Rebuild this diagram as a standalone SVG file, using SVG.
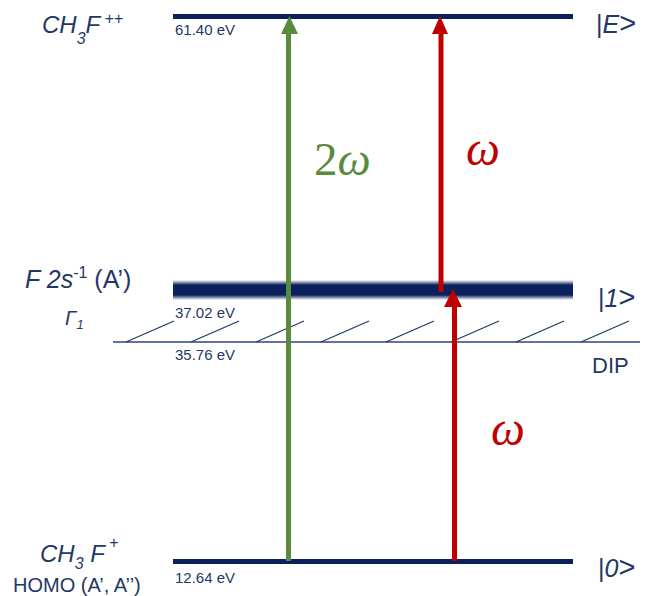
<svg xmlns="http://www.w3.org/2000/svg" width="648" height="596" viewBox="0 0 648 596">
<style>
.lbl{font-family:"Liberation Sans",Arial,sans-serif;fill:#1f3864}
.it{font-style:italic}
.ev{font-family:"Liberation Sans",Arial,sans-serif;font-size:15px;fill:#1f3864}
.ket{font-family:"Liberation Sans",Arial,sans-serif;font-size:25px;fill:#1f3864}
.br{font-size:29px}
.lvl{stroke:#0a215e;stroke-width:5;fill:none}
.hatch{stroke:#1f3864;stroke-width:1.2}
.om{font-family:"Liberation Serif","Times New Roman",serif;font-style:italic}
</style>
<defs>
<linearGradient id="band" x1="0" y1="0" x2="0" y2="1">
<stop offset="0" stop-color="#0a215e" stop-opacity="0"/>
<stop offset="0.25" stop-color="#0a215e" stop-opacity="1"/>
<stop offset="0.75" stop-color="#0a215e" stop-opacity="1"/>
<stop offset="1" stop-color="#0a215e" stop-opacity="0"/>
</linearGradient>
</defs>

<g id="level-E">
<line class="lvl" x1="173" y1="16.5" x2="573" y2="16.5"/>
<text class="ev" x="175" y="35">61.40 eV</text>
<text class="lbl it" x="42" y="33" font-size="24">CH<tspan font-size="16" dy="11">3</tspan><tspan dy="-11">F</tspan><tspan font-size="16" dy="-9" font-style="normal"> ++</tspan></text>
<text class="ket" x="596" y="33">|<tspan class="it">E</tspan><tspan class="br">&gt;</tspan></text>
</g>

<g id="level-1">
<rect x="173" y="280" width="400" height="20" fill="url(#band)"/>
<text class="ev" x="175" y="318">37.02 eV</text>
<text class="lbl" x="25" y="288" font-size="25"><tspan class="it">F 2s</tspan><tspan font-size="16" dy="-10">-1</tspan><tspan dy="10"> (A’)</tspan></text>
<text class="lbl it" x="65" y="325" font-size="20">Γ<tspan font-size="13" dy="4">1</tspan></text>
<text class="ket" x="598" y="307">|<tspan class="it">1</tspan><tspan class="br">&gt;</tspan></text>
</g>

<g id="DIP">
<line x1="113" y1="342" x2="640" y2="342" stroke="#2c4677" stroke-width="1.5"/>
<g class="hatch">
<line x1="126" y1="342" x2="174" y2="321"/>
<line x1="191" y1="342" x2="239" y2="321"/>
<line x1="256" y1="342" x2="304" y2="321"/>
<line x1="321" y1="342" x2="369" y2="321"/>
<line x1="386" y1="342" x2="434" y2="321"/>
<line x1="451" y1="342" x2="499" y2="321"/>
<line x1="516" y1="342" x2="564" y2="321"/>
<line x1="581" y1="342" x2="629" y2="321"/>
</g>
<text class="ev" x="175" y="360">35.76 eV</text>
<text class="lbl" x="592" y="373" font-size="22">DIP</text>
</g>

<g id="level-0">
<line class="lvl" x1="173" y1="561.5" x2="573" y2="561.5"/>
<text class="ev" x="175" y="583">12.64 eV</text>
<text class="lbl it" x="40" y="562" font-size="24">CH<tspan font-size="16" dy="7">3</tspan><tspan dy="-7"> F</tspan><tspan font-size="16" dy="-14" font-style="normal"> +</tspan></text>
<text class="lbl" x="13" y="592" font-size="20">HOMO (A’, A’’)</text>
<text class="ket" x="598" y="577">|<tspan class="it">0</tspan><tspan class="br">&gt;</tspan></text>
</g>

<g id="connectors">
<g id="arrow-2w">
<line x1="288.5" y1="561" x2="288.5" y2="32" stroke="#5a8a3c" stroke-width="5"/>
<polygon points="289.5,16 281,34 298,34" fill="#5a8a3c"/>
<text x="314" y="175" font-size="47" fill="#5a8a3c" font-family="Liberation Serif,serif">2<tspan class="om">ω</tspan></text>
</g>
<g id="arrow-w-upper">
<line x1="441" y1="292" x2="441" y2="32" stroke="#c00000" stroke-width="5"/>
<polygon points="440,16 432,34 448,34" fill="#c00000"/>
<text class="om" x="466" y="165" font-size="48" fill="#c00000">ω</text>
</g>
<g id="arrow-w-lower">
<line x1="454.5" y1="561" x2="454.5" y2="305" stroke="#c00000" stroke-width="5"/>
<polygon points="453,289 444,307 462,307" fill="#c00000"/>
<text class="om" x="491" y="445" font-size="48" fill="#c00000">ω</text>
</g>
</g>
</svg>
